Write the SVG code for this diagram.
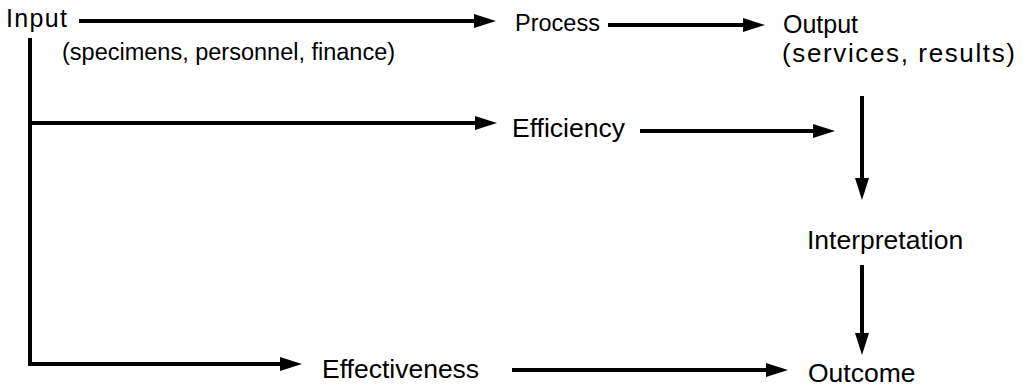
<svg xmlns="http://www.w3.org/2000/svg" width="1023" height="389" viewBox="0 0 1023 389">
  <defs>
    <style>
      text { font-family: "Liberation Sans", Arial, Helvetica, sans-serif; fill: #000; }
      .conn { fill: none; stroke: #000; stroke-width: 4; stroke-linecap: butt; stroke-linejoin: miter; }
    </style>
    <!-- solid triangular arrowhead; path ends at the head's base -->
    <marker id="head" viewBox="0 0 22 14" refX="2" refY="7" markerWidth="22" markerHeight="14" markerUnits="userSpaceOnUse" orient="auto">
      <path d="M0,0 L22,7 L0,14 Z" fill="#000"/>
    </marker>
  </defs>
  <rect width="1023" height="389" fill="#fff"/>

  <g id="connectors">
    <path class="conn" d="M79,21 L476,21" marker-end="url(#head)"/>
    <path class="conn" d="M608,25 L745,25" marker-end="url(#head)"/>
    <path class="conn" d="M30,38 L30,364 L282,364" marker-end="url(#head)"/>
    <path class="conn" d="M30,123 L477,123" marker-end="url(#head)"/>
    <path class="conn" d="M640,131 L815,131" marker-end="url(#head)"/>
    <path class="conn" d="M862,96 L862,180" marker-end="url(#head)"/>
    <path class="conn" d="M862,265 L862,335" marker-end="url(#head)"/>
    <path class="conn" d="M512,370 L768,370" marker-end="url(#head)"/>
  </g>

  <g id="input">
    <text x="6" y="27" font-size="25" textLength="61">Input</text>
    <text x="62" y="60" font-size="23.5">(specimens, personnel, finance)</text>
  </g>
  <g id="process">
    <text x="515" y="31" font-size="23.5">Process</text>
  </g>
  <g id="output">
    <text x="783" y="33" font-size="25">Output</text>
    <text x="782" y="62" font-size="26" textLength="233">(services, results)</text>
  </g>
  <g id="efficiency">
    <text x="512" y="137" font-size="26.5">Efficiency</text>
  </g>
  <g id="interpretation">
    <text x="807" y="249" font-size="26.5">Interpretation</text>
  </g>
  <g id="effectiveness">
    <text x="322" y="378" font-size="26.5">Effectiveness</text>
  </g>
  <g id="outcome">
    <text x="808" y="382" font-size="26.5">Outcome</text>
  </g>
</svg>
